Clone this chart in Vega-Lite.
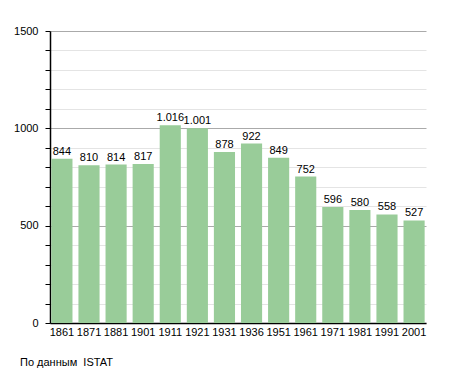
{
  "$schema": "https://vega.github.io/schema/vega-lite/v6.json",
  "width": 376,
  "height": 292,
  "autosize": {"type": "none"},
  "padding": {"left": 50, "top": 31, "right": 29, "bottom": 50},
  "background": "white",
  "config": {
    "view": {"stroke": null},
    "font": "Liberation Sans"
  },
  "title": {
    "text": "По данным \u00a0ISTAT",
    "orient": "bottom",
    "anchor": "start",
    "frame": "group",
    "dx": -30,
    "offset": 20,
    "fontSize": 11,
    "fontWeight": "normal",
    "color": "#000",
    "font": "Liberation Sans"
  },
  "data": {
    "values": [
      {"year": "1861", "pop": 844, "label": "844"},
      {"year": "1871", "pop": 810, "label": "810"},
      {"year": "1881", "pop": 814, "label": "814"},
      {"year": "1901", "pop": 817, "label": "817"},
      {"year": "1911", "pop": 1016, "label": "1.016"},
      {"year": "1921", "pop": 1001, "label": "1.001"},
      {"year": "1931", "pop": 878, "label": "878"},
      {"year": "1936", "pop": 922, "label": "922"},
      {"year": "1951", "pop": 849, "label": "849"},
      {"year": "1961", "pop": 752, "label": "752"},
      {"year": "1971", "pop": 596, "label": "596"},
      {"year": "1981", "pop": 580, "label": "580"},
      {"year": "1991", "pop": 558, "label": "558"},
      {"year": "2001", "pop": 527, "label": "527"}
    ]
  },
  "encoding": {
    "x": {
      "field": "year",
      "type": "ordinal",
      "sort": null,
      "scale": {"paddingInner": 0.22, "paddingOuter": 0.05},
      "axis": {
        "title": null,
        "labelAngle": 0,
        "labelFontSize": 11,
        "labelColor": "#000",
        "labelPadding": 3,
        "ticks": false,
        "domain": true,
        "domainColor": "#000",
        "domainWidth": 1.5,
        "labelFont": "Liberation Sans"
      }
    },
    "y": {
      "field": "pop",
      "type": "quantitative",
      "scale": {"domain": [0, 1500], "nice": false},
      "axis": {
        "title": null,
        "values": [0, 100, 200, 300, 400, 500, 600, 700, 800, 900, 1000, 1100, 1200, 1300, 1400, 1500],
        "labelExpr": "datum.value % 500 === 0 ? datum.value : ''",
        "labelOverlap": false,
        "labelBound": false,
        "labelFlush": false,
        "labelFontSize": 11,
        "labelColor": "#000",
        "labelFont": "Liberation Sans",
        "labelPadding": 7,
        "tickColor": "#000",
        "tickSize": 5,
        "domainColor": "#000",
        "domainWidth": 1.5,
        "gridColor": {"condition": {"test": "datum.value % 500 === 0", "value": "#aaaaaa"}, "value": "#e4e4e4"},
        "gridWidth": 1
      }
    }
  },
  "layer": [
    {
      "mark": {"type": "bar", "color": "#99cc99"}
    },
    {
      "mark": {"type": "text", "baseline": "bottom", "dy": -2, "fontSize": 11, "color": "#000", "font": "Liberation Sans"},
      "encoding": {
        "text": {"field": "label", "type": "nominal"}
      }
    }
  ]
}
